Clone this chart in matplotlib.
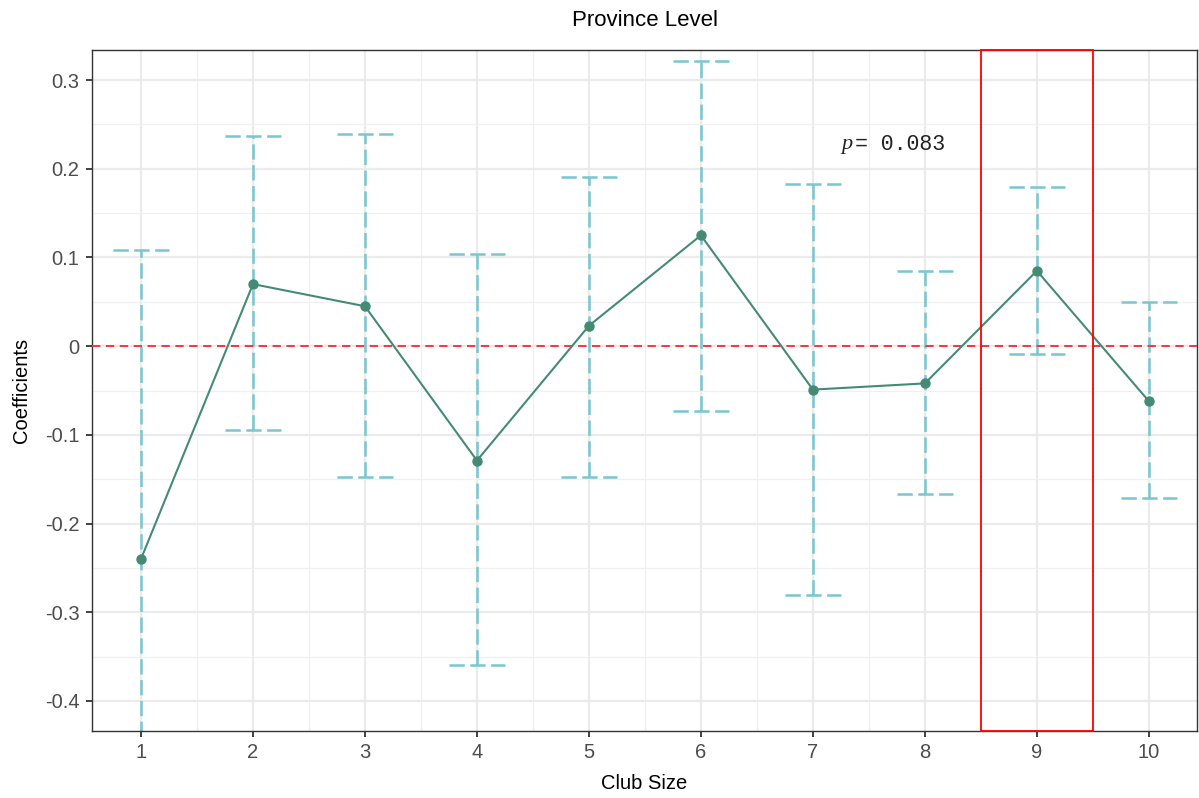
import matplotlib
matplotlib.use("Agg")
import matplotlib.pyplot as plt
from matplotlib.patches import Rectangle
from matplotlib.ticker import MultipleLocator

club_size = [1, 2, 3, 4, 5, 6, 7, 8, 9, 10]
coef = [-0.240, 0.070, 0.045, -0.129, 0.023, 0.125, -0.049, -0.042, 0.085, -0.062]
upper = [0.108, 0.237, 0.239, 0.104, 0.191, 0.322, 0.183, 0.085, 0.179, 0.050]
lower = [-0.588, -0.095, -0.148, -0.360, -0.147, -0.073, -0.281, -0.167, -0.009, -0.171]
y_ticks = [0.3, 0.2, 0.1, 0.0, -0.1, -0.2, -0.3, -0.4]
y_tick_labels = ["0.3", "0.2", "0.1", "0", "-0.1", "-0.2", "-0.3", "-0.4"]
highlight = 9
p_text = "= 0.083"

plt.rcParams['font.family'] = ['Liberation Sans', 'DejaVu Sans']
plt.rcParams['lines.scale_dashes'] = False

fig = plt.figure(figsize=(11.99, 7.98), dpi=100)
ax = fig.add_axes([92/1199, 67/798, 1105/1199, 681/798])

ax.set_xlim(0.5625, 10.43)
ax.set_ylim(-0.434, 0.334)

# grid
ax.xaxis.set_minor_locator(MultipleLocator(0.5))
ax.yaxis.set_minor_locator(MultipleLocator(0.05))
ax.set_xticks(club_size)
ax.set_yticks(y_ticks)
ax.set_yticklabels(y_tick_labels)
ax.grid(which='major', color='#EBEBEB', linewidth=1.6, zorder=0)
ax.grid(which='minor', color='#F0F0F0', linewidth=0.9, zorder=0)
ax.set_axisbelow(True)

err_color = '#78C6D0'
dash = (0, (11, 4))
for x, lo, hi in zip(club_size, lower, upper):
    ax.plot([x, x], [lo, hi], color=err_color, linewidth=1.8, linestyle=dash, zorder=2)
    for yv in (lo, hi):
        ax.plot([x - 0.25, x + 0.25], [yv, yv], color=err_color, linewidth=1.8,
                linestyle=dash, zorder=2)

ax.axhline(0, color='#F03A3A', linewidth=1.4, linestyle=(0, (6, 4)), zorder=3)

ax.plot(club_size, coef, color='#458B74', linewidth=1.5, marker='o', markersize=6.5, zorder=4)

ax.add_patch(Rectangle((highlight - 0.5, -0.434), 1.0, 0.768, fill=False,
                       edgecolor='#FF0000', linewidth=1.3, zorder=5, clip_on=False))

ax.text(7.25, 0.227, "p", fontfamily='Liberation Serif', style='italic', fontsize=16,
        ha='left', va='center', color='#222222')
ax.text(7.38, 0.227, p_text, fontfamily='Liberation Mono', fontsize=15.5,
        ha='left', va='center', color='#222222')

for s in ax.spines.values():
    s.set_color('#333333')
    s.set_linewidth(1.0)

ax.tick_params(axis='both', which='major', length=4, width=1.3, color='#333333',
               labelsize=14.5, labelcolor='#4D4D4D', pad=5)
ax.tick_params(axis='both', which='minor', length=0)

ax.set_xlabel("Club Size", fontsize=14.5, labelpad=8, color='black')
ax.set_ylabel("Coefficients", fontsize=14.5, labelpad=10, color='black')
ax.set_title("Province Level", fontsize=16, pad=17, color='black')

fig.savefig("out.png", dpi=100)
